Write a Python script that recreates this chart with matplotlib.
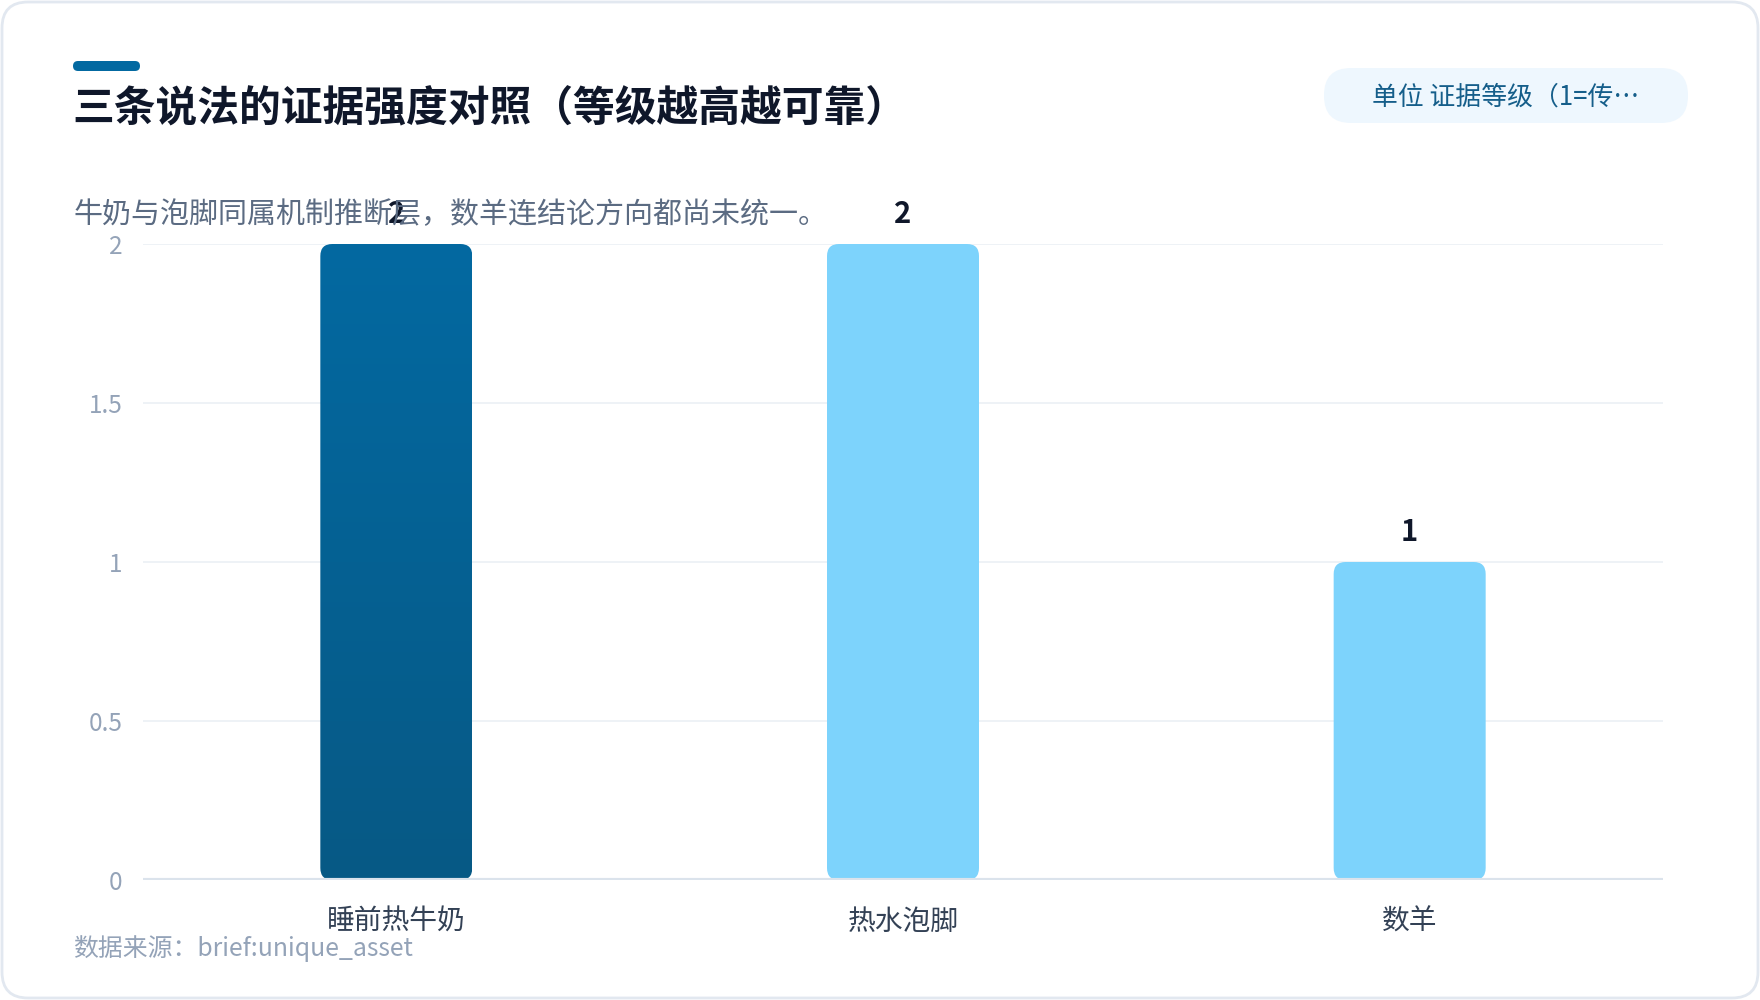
import numpy as np
import matplotlib
matplotlib.use("Agg")
import matplotlib.pyplot as plt
from matplotlib.patches import FancyBboxPatch
from matplotlib.transforms import IdentityTransform, ScaledTranslation
from matplotlib.colors import LinearSegmentedColormap

plt.rcParams['font.family'] = ['Noto Sans CJK SC', 'DejaVu Sans']

# ---- data ----
categories = ["睡前热牛奶", "热水泡脚", "数羊"]
values = [2, 2, 1]
yticks = [0, 0.5, 1, 1.5, 2]
ytick_labels = ["0", "0.5", "1", "1.5", "2"]
title = "三条说法的证据强度对照（等级越高越可靠）"
subtitle = "牛奶与泡脚同属机制推断层，数羊连结论方向都尚未统一。"
unit_text = "单位 证据等级（1=传…"
source_text = "数据来源：brief:unique_asset"

W, H = 1760, 1000
fig = plt.figure(figsize=(W / 100, H / 100), dpi=100)
fig.patch.set_facecolor("white")

def fx(px):
    return px / W

def fy(py):
    return 1 - py / H

# card
card = FancyBboxPatch((2, 2), W - 4, H - 4,
                      boxstyle="round,pad=0,rounding_size=26",
                      transform=IdentityTransform(), facecolor="white",
                      edgecolor="#e2e8f0", linewidth=2, zorder=-10)
fig.patches.append(card)

# accent bar
acc = FancyBboxPatch((73, H - 71), 67, 10,
                     boxstyle="round,pad=0,rounding_size=5",
                     transform=IdentityTransform(), facecolor="#0369a1",
                     edgecolor="none", zorder=-5)
fig.patches.append(acc)

fig.text(fx(72), fy(109), title, fontsize=30.1, fontweight="bold",
         color="#0f172a", va="center", ha="left")
fig.text(fx(73), fy(215), subtitle, fontsize=20.9, color="#5b6b82",
         va="center", ha="left")

# unit pill
pill = FancyBboxPatch((1324, H - 123), 364, 55,
                      boxstyle="round,pad=0,rounding_size=27",
                      transform=IdentityTransform(), facecolor="#eef7fe",
                      edgecolor="none", zorder=-5)
fig.patches.append(pill)
fig.text(fx(1372), fy(97), unit_text, fontsize=18.6, color="#155e8a",
         va="center", ha="left")

fig.text(fx(73), fy(949), source_text, fontsize=17.9, color="#94a3b8",
         va="center", ha="left")

# axes
left, right, top, bottom = 143, 1663, 244, 880
ax = fig.add_axes([fx(left), fy(bottom), fx(right - left), (bottom - top) / H])
ax.set_facecolor("none")
x = np.arange(len(categories))
bars = ax.bar(x, values, width=0.3, color="none", edgecolor="none")
ax.set_xlim(-0.5, len(categories) - 0.5)
ax.set_ylim(0, 2)
ax.set_yticks(yticks)
ax.set_yticklabels(ytick_labels)
ax.set_xticks(x)
ax.set_xticklabels(categories)
for s in ax.spines.values():
    s.set_visible(False)
ax.tick_params(axis="y", length=0, pad=15, labelsize=17.5, labelcolor="#94a3b8")
ax.tick_params(axis="x", length=0, pad=19.5, labelsize=20, labelcolor="#334155")
for yv in yticks[1:]:
    ax.axhline(yv, color="#edf1f6", linewidth=1.3, zorder=0)
ax.axhline(0, color="#dbe3ec", linewidth=3, zorder=3)

fig.canvas.draw()
cmap = LinearSegmentedColormap.from_list("g", ["#075985", "#0369a1"])
bar_colors = [None, "#7dd3fc", "#7dd3fc"]
label_off = ScaledTranslation(0, 10.5 / 72, fig.dpi_scale_trans)
for i, (b, v) in enumerate(zip(bars, values)):
    bb = b.get_window_extent()
    patch = FancyBboxPatch((bb.x0, bb.y0), bb.width, bb.height,
                           boxstyle="round,pad=0,rounding_size=12",
                           transform=IdentityTransform(),
                           facecolor=bar_colors[i] if bar_colors[i] else "none",
                           edgecolor="none", zorder=2, clip_on=False)
    ax.add_patch(patch)
    if bar_colors[i] is None:
        grad = np.linspace(0, 1, 256).reshape(-1, 1)
        im = ax.imshow(grad, extent=[b.get_x(), b.get_x() + b.get_width(), 0, v],
                       origin="lower", cmap=cmap, aspect="auto", zorder=2)
        im.set_clip_path(patch)
    ax.text(b.get_x() + b.get_width() / 2, v, str(v), ha="center",
            va="bottom", fontsize=21, fontweight="bold", color="#0f172a",
            transform=ax.transData + label_off, clip_on=False, zorder=5)
ax.set_xlim(-0.5, len(categories) - 0.5)
ax.set_ylim(0, 2)

fig.savefig("out.png", dpi=100, facecolor="white")
